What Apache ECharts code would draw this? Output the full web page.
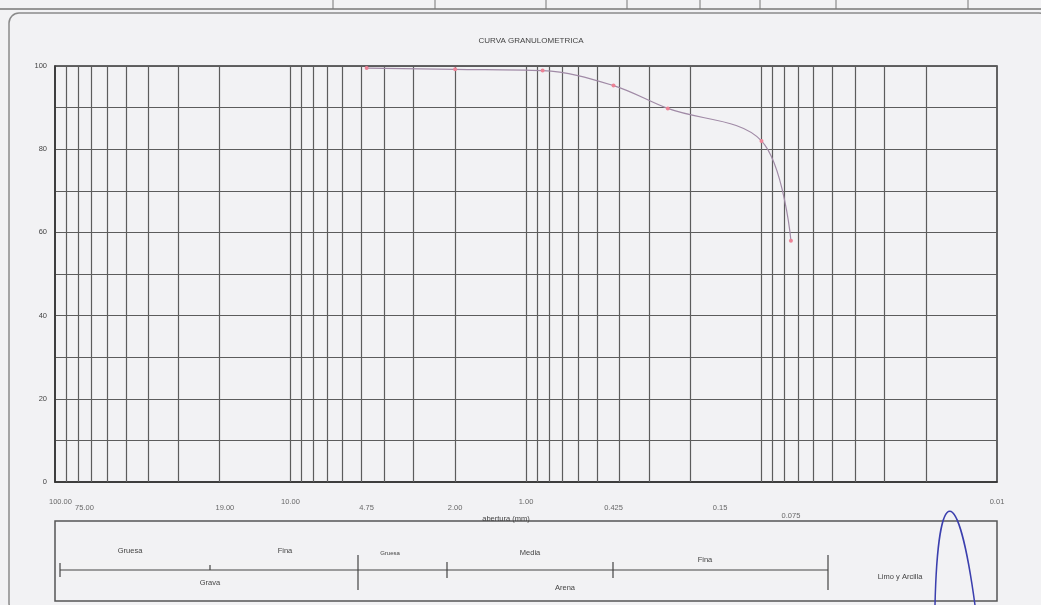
<!DOCTYPE html>
<html>
<head>
<meta charset="utf-8">
<title>Curva granulometrica</title>
<script src="https://cdn.jsdelivr.net/npm/echarts@6/dist/echarts.min.js"></script>
<style>
  html, body { margin: 0; padding: 0; background: #f2f2f4; }
  #chart { width: 1041px; height: 605px; }
</style>
</head>
<body>
<div id="chart"></div>
<script>
// abertura del tamiz (mm) y % que pasa
const sieveSize = [4.75, 2.0, 0.85, 0.425, 0.25, 0.1, 0.075];
const pctPassing = [99.5, 99.2, 98.9, 95.3, 89.8, 82.0, 58.0];

// etiquetas del eje x
const xTickValues = [100, 75, 19, 10, 4.75, 2, 1, 0.425, 0.15, 0.075, 0.01];
const xTickLabels = ['100.00', '75.00', '19.00', '10.00', '4.75', '2.00', '1.00', '0.425', '0.15', '0.075', '0.01'];
const yTickLabels = [0, 20, 40, 60, 80, 100];

const textColor = '#444';
const gridColor = '#5c5c5c';

// lineas verticales del papel logaritmico (1..9 por decada)
const logLines = [];
for (let e = -2; e <= 1; e++) {
  for (let k = 1; k <= 9; k++) {
    const v = k * Math.pow(10, e);
    if (v > 0.01 && v < 100) logLines.push({ xAxis: v });
  }
}

const chart = echarts.init(document.getElementById('chart'));

// distancia de la etiqueta bajo el eje
function labelGap(v) {
  if (v === 0.075) return 30;
  const l = Math.log10(v);
  return Math.abs(l - Math.round(l)) < 1e-9 ? 16 : 22;
}

chart.setOption({
  animation: false,
  backgroundColor: '#f2f2f4',
  textStyle: { fontFamily: 'Liberation Sans, Arial, sans-serif' },
  title: {
    text: 'CURVA GRANULOMETRICA',
    left: 526,
    top: 32,
    textAlign: 'center',
    textStyle: { fontSize: 8, fontWeight: 'normal', color: textColor }
  },
  grid: {
    left: 55,
    right: 44,
    top: 66,
    bottom: 123,
    show: true,
    borderColor: '#333',
    borderWidth: 1.5,
    backgroundColor: 'transparent'
  },
  xAxis: {
    type: 'log',
    logBase: 10,
    min: 0.01,
    max: 100,
    inverse: true,
    name: 'abertura (mm)',
    nameLocation: 'middle',
    nameGap: 33,
    nameTextStyle: { fontSize: 7.5, color: textColor, padding: [0, 40, 0, 0] },
    axisLine: { show: true, lineStyle: { color: '#333', width: 1.5 } },
    axisTick: { show: false },
    axisLabel: { show: false },
    splitLine: { show: false }
  },
  yAxis: {
    type: 'value',
    min: 0,
    max: 100,
    interval: 10,
    axisLine: { show: true, lineStyle: { color: '#333', width: 1.5 } },
    axisTick: { show: false },
    axisLabel: {
      fontSize: 7.5,
      color: textColor,
      margin: 8,
      formatter: function (v) {
        return yTickLabels.indexOf(v) >= 0 ? String(v) : '';
      }
    },
    splitLine: { show: true, lineStyle: { color: gridColor, width: 1.2 } }
  },
  series: [
    {
      // etiquetas del eje x y rejilla logaritmica
      type: 'scatter',
      silent: true,
      symbolSize: 0,
      data: xTickValues.map(function (v, i) {
        return {
          value: [v, 0],
          label: {
            show: true,
            formatter: xTickLabels[i],
            position: 'bottom',
            distance: labelGap(v),
            align: v === 100 ? 'left' : 'center',
            offset: v === 100 ? [-6, 0] : [0, 0],
            fontSize: 7.5,
            color: textColor
          }
        };
      }),
      markLine: {
        silent: true,
        symbol: 'none',
        label: { show: false },
        lineStyle: { color: gridColor, width: 1.2, type: 'solid' },
        data: logLines
      }
    },
    {
      name: '% que pasa',
      type: 'line',
      smooth: 0.35,
      symbol: 'circle',
      symbolSize: 4,
      z: 5,
      itemStyle: { color: '#ec8396' },
      lineStyle: { color: '#a08aa6', width: 1.2 },
      data: sieveSize.map(function (s, i) { return [s, pctPassing[i]]; })
    }
  ],
  graphic: [
    // marco de la hoja
    {
      type: 'rect',
      shape: { x: 9, y: 13, width: 1040, height: 600, r: 10 },
      style: { fill: 'none', stroke: '#8a8a8a', lineWidth: 1.5 },
      silent: true
    },
    // fila de la tabla superior
    {
      type: 'line',
      shape: { x1: 0, y1: 9, x2: 1041, y2: 9 },
      style: { stroke: '#777', lineWidth: 1.5 },
      silent: true
    },
    ...[333, 435, 546, 627, 700, 760, 836, 968].map(function (x) {
      return {
        type: 'line',
        shape: { x1: x, y1: 0, x2: x, y2: 9 },
        style: { stroke: '#777', lineWidth: 1 },
        silent: true
      };
    }),
    // cuadro de clasificacion
    {
      type: 'rect',
      shape: { x: 55, y: 521, width: 942, height: 80 },
      style: { fill: 'none', stroke: '#555', lineWidth: 1.5 },
      silent: true
    },
    {
      type: 'line',
      shape: { x1: 60, y1: 570, x2: 828, y2: 570 },
      style: { stroke: '#444', lineWidth: 1.2 },
      silent: true
    },
    ...[[60, 563, 577], [210, 565, 570], [358, 555, 590], [447, 562, 578], [613, 562, 578], [828, 555, 590]].map(function (t) {
      return {
        type: 'line',
        shape: { x1: t[0], y1: t[1], x2: t[0], y2: t[2] },
        style: { stroke: '#444', lineWidth: 1.2 },
        silent: true
      };
    }),
    ...[
      ['Gruesa', 130, 551, 7.5], ['Fina', 285, 551, 7.5], ['Grava', 210, 583, 7.5],
      ['Gruesa', 390, 553, 6], ['Media', 530, 553, 7.5], ['Fina', 705, 560, 7.5],
      ['Arena', 565, 588, 7.5], ['Limo y Arcilla', 900, 577, 7.5]
    ].map(function (t) {
      return {
        type: 'text',
        x: t[1],
        y: t[2],
        style: {
          text: t[0],
          fill: textColor,
          fontSize: t[3],
          fontFamily: 'Liberation Sans, Arial, sans-serif',
          align: 'center',
          verticalAlign: 'middle'
        },
        silent: true
      };
    }),
    // trazo de boligrafo
    {
      type: 'bezierCurve',
      shape: { x1: 935, y1: 605, cpx1: 938, cpy1: 480, cpx2: 958, cpy2: 480, x2: 975, y2: 605 },
      style: { fill: 'none', stroke: '#3b3fae', lineWidth: 1.5 },
      silent: true
    }
  ]
});
</script>
</body>
</html>
